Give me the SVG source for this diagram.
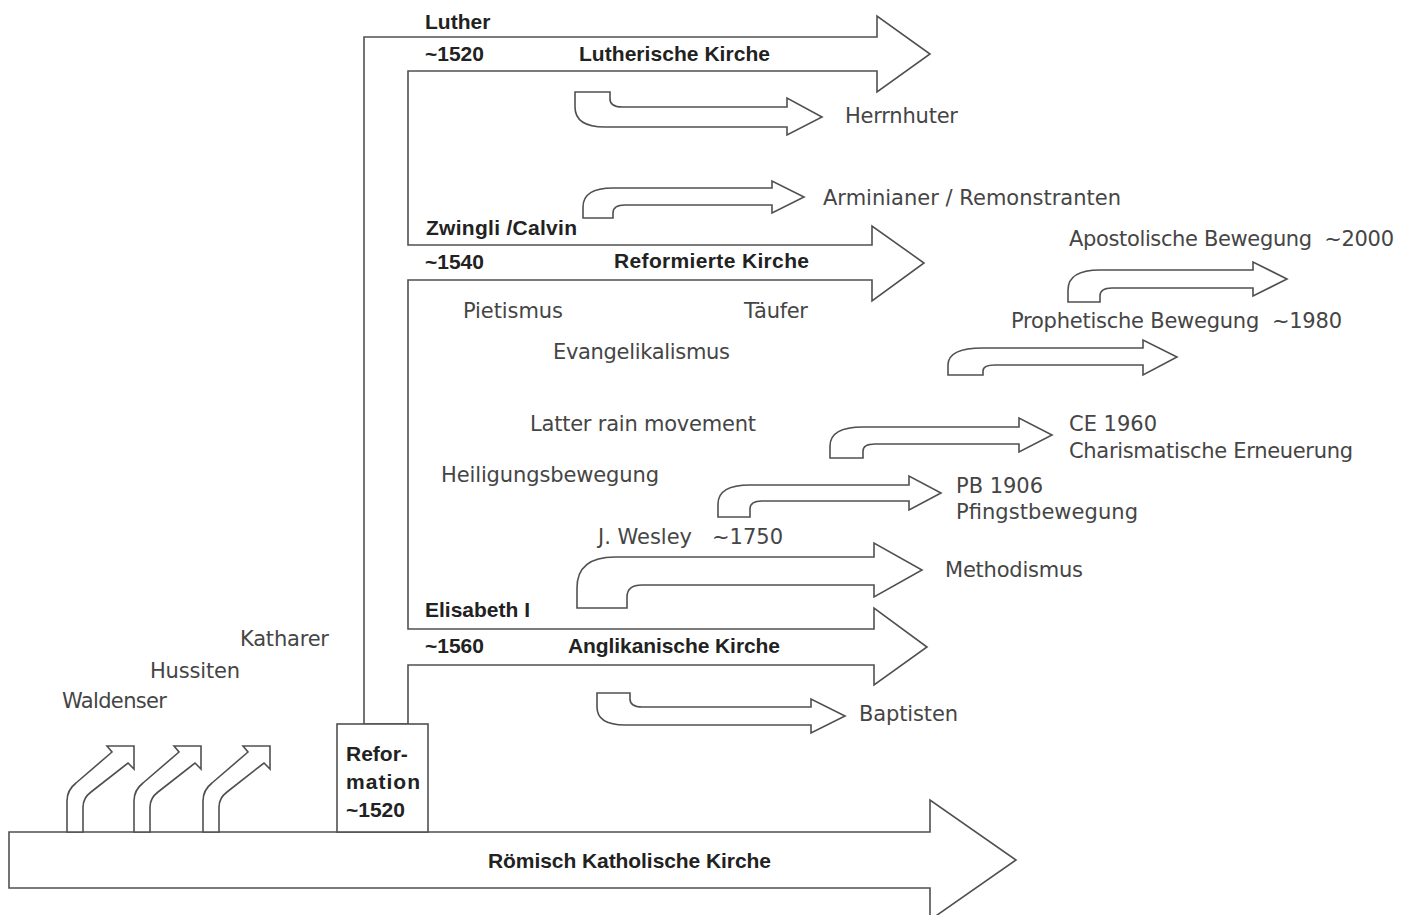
<svg xmlns="http://www.w3.org/2000/svg" width="1409" height="915" viewBox="0 0 1409 915">
<style>
.shape { fill: #ffffff; stroke: #505050; stroke-width: 1.6; stroke-linejoin: miter; }
.b { font-family: "Liberation Sans", Arial, sans-serif; font-weight: bold; font-size: 21px; fill: #222222; }
.r { font-family: "DejaVu Sans", "Liberation Sans", sans-serif; font-size: 21px; fill: #454545; }
</style>
<defs>
<path id="uparrow" d="M 67,832 L 67,801 Q 67,790 76,783 L 112,752 L 107,746 L 134,746 L 134,769 L 128,763 L 91,792 Q 83,798 83,807 L 83,832 Z"/>
</defs>
<rect width="1409" height="915" fill="#ffffff"/>

<g id="roemisch-katholische-kirche">
<path class="shape" d="M 9,832 L 930,832 L 930,800 L 1016,860 L 930,920 L 930,888 L 9,888 Z"/>
<text class="b" x="488" y="868" textLength="283">Römisch Katholische Kirche</text>
</g>

<g id="waldenser">
<use href="#uparrow" class="shape"/>
<text class="r" x="62" y="708" textLength="105">Waldenser</text>
</g>
<g id="hussiten">
<use href="#uparrow" class="shape" transform="translate(67,0)"/>
<text class="r" x="150" y="678" textLength="90">Hussiten</text>
</g>
<g id="katharer">
<use href="#uparrow" class="shape" transform="translate(136,0)"/>
<text class="r" x="240" y="646" textLength="89">Katharer</text>
</g>

<g id="connectors">
<path class="shape" d="M 364,724 L 364,37 L 877,37 L 877,16 L 930,54 L 877,92 L 877,71 L 408,71 L 408,245 L 872,245 L 872,226 L 924,263 L 872,301 L 872,280 L 408,280 L 408,629 L 874,629 L 874,608 L 927,647 L 874,685 L 874,665 L 408,665 L 408,724 Z"/>
</g>

<g id="reformation">
<rect class="shape" x="337" y="724" width="91" height="108"/>
<text class="b" x="346" y="761">Refor-</text>
<text class="b" x="346" y="789" textLength="74">mation</text>
<text class="b" x="346" y="817">~1520</text>
</g>

<g id="lutherische-kirche">
<text class="b" x="425" y="29">Luther</text>
<text class="b" x="425" y="61">~1520</text>
<text class="b" x="579" y="61" textLength="191">Lutherische Kirche</text>
</g>

<g id="reformierte-kirche">
<text class="b" x="426" y="235" textLength="151">Zwingli /Calvin</text>
<text class="b" x="425" y="269">~1540</text>
<text class="b" x="614" y="268" textLength="195">Reformierte Kirche</text>
</g>

<g id="anglikanische-kirche">
<text class="b" x="425" y="617">Elisabeth I</text>
<text class="b" x="425" y="653">~1560</text>
<text class="b" x="568" y="653" textLength="212">Anglikanische Kirche</text>
</g>

<g id="herrnhuter">
<path class="shape" d="M 575,92 L 610,92 L 610,99 Q 610,107 622,107 L 787,107 L 787,98 L 822,117 L 787,135 L 787,127 L 605,127 Q 575,127 575,107 Z"/>
<text class="r" x="845" y="123" textLength="113">Herrnhuter</text>
</g>

<g id="arminianer">
<path class="shape" d="M 583,218 L 583,207 Q 583,188 613,188 L 772,188 L 772,181 L 804,197 L 772,213 L 772,205 L 625,205 Q 613,205 613,213 L 613,218 Z"/>
<text class="r" x="823" y="205" textLength="298">Arminianer / Remonstranten</text>
</g>

<g id="apostolische-bewegung">
<path class="shape" d="M 1068,302 L 1068,290 Q 1068,270 1100,270 L 1253,270 L 1253,262 L 1287,279 L 1253,296 L 1253,288 L 1112,288 Q 1100,288 1100,296 L 1100,302 Z"/>
<text class="r" x="1069" y="246" textLength="325">Apostolische Bewegung&#160; ~2000</text>
</g>

<g id="prophetische-bewegung">
<path class="shape" d="M 948,375 L 948,365 Q 948,348 983,348 L 1143,348 L 1143,340 L 1177,357 L 1143,375 L 1143,365 L 995,365 Q 983,365 983,371 L 983,375 Z"/>
<text class="r" x="1011" y="328" textLength="331">Prophetische Bewegung&#160; ~1980</text>
</g>

<g id="pietismus">
<text class="r" x="463" y="318" textLength="100">Pietismus</text>
</g>
<g id="taeufer">
<text class="r" x="744" y="318" textLength="64">Täufer</text>
</g>
<g id="evangelikalismus">
<text class="r" x="553" y="359" textLength="177">Evangelikalismus</text>
</g>
<g id="latter-rain">
<text class="r" x="530" y="431" textLength="226">Latter rain movement</text>
</g>
<g id="heiligungsbewegung">
<text class="r" x="441" y="482" textLength="218">Heiligungsbewegung</text>
</g>

<g id="charismatische-erneuerung">
<path class="shape" d="M 830,458 L 830,446 Q 830,427 863,427 L 1019,427 L 1019,418 L 1052,435 L 1019,452 L 1019,444 L 875,444 Q 863,444 863,451 L 863,458 Z"/>
<text class="r" x="1069" y="431" textLength="88">CE 1960</text>
<text class="r" x="1069" y="458" textLength="284">Charismatische Erneuerung</text>
</g>

<g id="pfingstbewegung">
<path class="shape" d="M 718,517 L 718,504 Q 718,485 750,485 L 909,485 L 909,476 L 941,493 L 909,510 L 909,501 L 762,501 Q 750,501 750,509 L 750,517 Z"/>
<text class="r" x="956" y="493" textLength="87">PB 1906</text>
<text class="r" x="956" y="519" textLength="182">Pfingstbewegung</text>
</g>

<g id="methodismus">
<path class="shape" d="M 577,608 L 577,588 Q 577,557 615,557 L 874,557 L 874,543 L 922,570 L 874,597 L 874,585 L 642,585 Q 627,585 627,597 L 627,608 Z"/>
<text class="r" x="598" y="544" textLength="185">J. Wesley&#160;&#160; ~1750</text>
<text class="r" x="945" y="577" textLength="138">Methodismus</text>
</g>

<g id="baptisten">
<path class="shape" d="M 597,693 L 630,693 L 630,699 Q 630,707 642,707 L 811,707 L 811,699 L 845,716 L 811,733 L 811,725 L 625,725 Q 597,725 597,707 Z"/>
<text class="r" x="859" y="721" textLength="99">Baptisten</text>
</g>
</svg>
